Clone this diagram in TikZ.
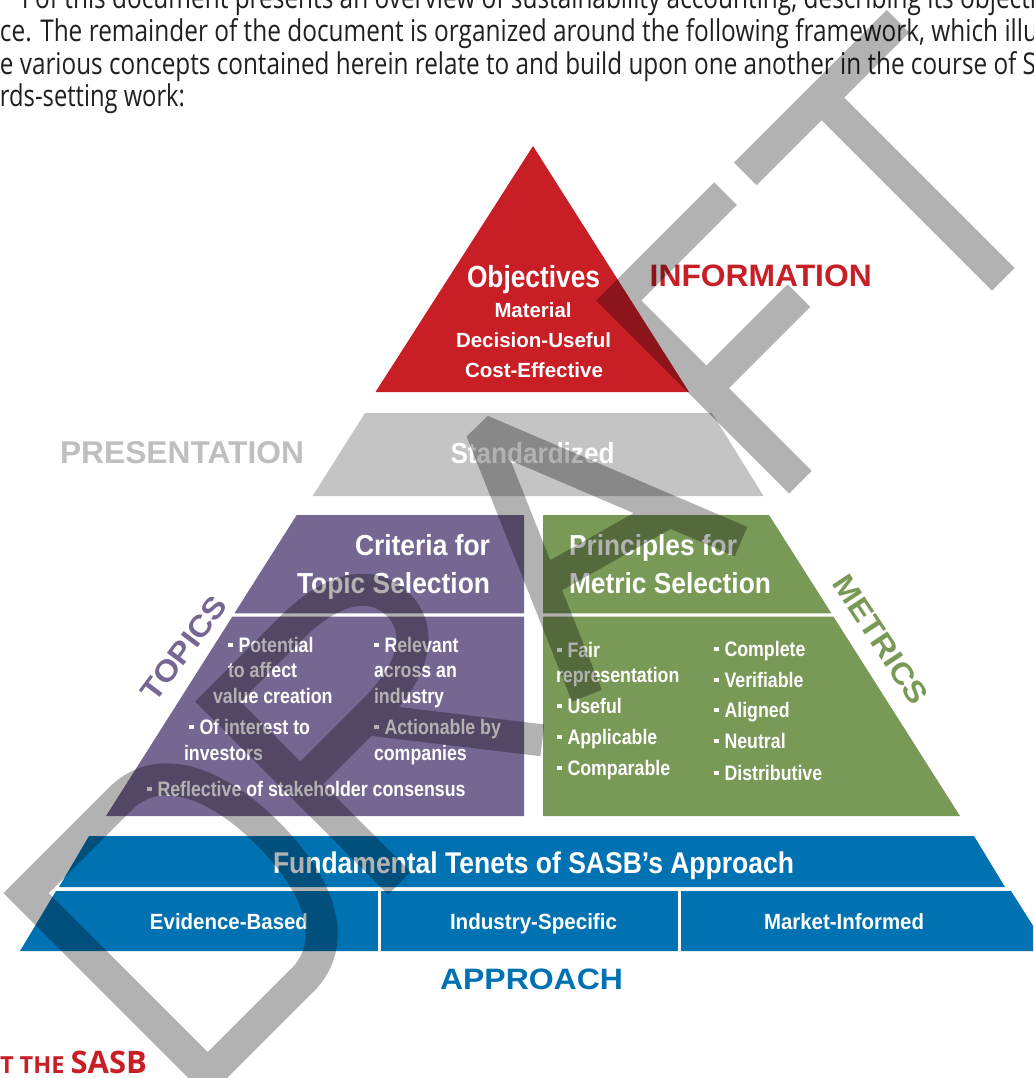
\documentclass[tikz,border=0pt]{standalone}
\usepackage{fontspec}
\usepackage{graphicx}
\setmainfont{Liberation Sans}
\newfontfamily\narrowf{Liberation Sans}[FakeStretch=0.846]
\newfontfamily\bodyf{Open Sans}
% scale a box horizontally to a given width, keeping its height
\newcommand\fitw[2]{\resizebox{#1}{\height}{#2}}
\newcommand\fsz[1]{\fontsize{#1}{#1}\selectfont}
\newcommand\bul{\rule[5pt]{4.5pt}{4.5pt}\hspace{6pt}}
\definecolor{sasbred}{RGB}{200,31,38}
\definecolor{sasbgray}{RGB}{196,196,196}
\definecolor{presgray}{RGB}{191,191,191}
\definecolor{sasbpurple}{RGB}{118,102,146}
\definecolor{sasbgreen}{RGB}{121,153,86}
\definecolor{sasbblue}{RGB}{0,114,178}
\definecolor{bodyc}{RGB}{35,31,32}
\begin{document}
\begin{tikzpicture}[x=1pt,y=-1pt,
  txt/.style={inner sep=0pt,outer sep=0pt},
  body/.style={txt,anchor=base west,text=bodyc},
  wt/.style={txt,anchor=base,text=white},
  bl/.style={txt,anchor=base west,text=white,font=\narrowf\bfseries\fsz{21}},
  wm/.style={line width=32pt,draw=black,draw opacity=0.3,line join=miter,miter limit=2,line cap=butt}]
\useasboundingbox (0,0) rectangle (1033,1078);
\clip (0,0) rectangle (1033,1078);

% running text above the figure
\node[body] (l1) at (22,9) {\fitw{1014pt}{\bodyf\fsz{30}I of this document presents an overview of sustainability accounting, describing its objecti}};
\node[body] (l2) at (0,42) {\fitw{1038pt}{\bodyf\fsz{30}ce. The remainder of the document is organized around the following framework, which illu}};
\node[body] (l3) at (0,75) {\fitw{1036pt}{\bodyf\fsz{30}e various concepts contained herein relate to and build upon one another in the course of S}};
\node[body] (l4) at (0,107) {\fitw{185pt}{\bodyf\fsz{30}rds-setting work:}};

% objectives
\fill[sasbred] (533,146) -- (689,392) -- (375.5,392) -- cycle;
\node[wt] (obj) at (533.5,287) {\fitw{133pt}{\bfseries\fsz{30.5}Objectives}};
\node[wt] (mat) at (533,317) {\fitw{77pt}{\bfseries\fsz{20.5}Material}};
\node[wt] (dec) at (533.5,347) {\fitw{155pt}{\bfseries\fsz{20.5}Decision-Useful}};
\node[wt] (cost) at (534,377) {\fitw{138pt}{\bfseries\fsz{20.5}Cost-Effective}};
\node[txt,anchor=base west,text=sasbred] (info) at (649.7,286) {\fitw{222pt}{\bfseries\fsz{31}INFORMATION}};

% presentation
\fill[sasbgray] (365,413) -- (712,413) -- (763.5,496) -- (312.6,496) -- cycle;
\node[txt,anchor=base west,text=presgray] (pres) at (60,463) {\fitw{244pt}{\bfseries\fsz{31.5}PRESENTATION}};
\node[wt] (std) at (532.5,463) {\fitw{164pt}{\bfseries\fsz{29}Standardized}};

% topics
\fill[sasbpurple] (296.7,515) -- (524,515) -- (524,613.3) -- (234.4,613.3) -- cycle;
\fill[sasbpurple] (232.3,616.7) -- (524,616.7) -- (524,816) -- (106,816) -- cycle;
\node[txt,anchor=base east,text=white] (crit1) at (490,555) {\fitw{135pt}{\bfseries\fsz{29}Criteria for}};
\node[txt,anchor=base east,text=white] (crit2) at (490,593) {\fitw{193pt}{\bfseries\fsz{29}Topic Selection}};
\node[bl] (t1) at (228,652) {\bul Potential};
\node[bl] (t2) at (228,677) {to affect};
\node[bl] (t3) at (213,703) {value creation};
\node[bl] (t4) at (189,734) {\bul Of interest to};
\node[bl] (t5) at (184,760) {investors};
\node[bl] (t6) at (374,652) {\bul Relevant};
\node[bl] (t7) at (374,677) {across an};
\node[bl] (t8) at (374,703) {industry};
\node[bl] (t9) at (374,734) {\bul Actionable by};
\node[bl] (t10) at (374,760) {companies};
\node[bl] (t11) at (147,796) {\bul Reflective of stakeholder consensus};
\node[txt,rotate=53,text=sasbpurple] (topics) at (184.2,648.3) {\fitw{122pt}{\bfseries\fsz{30}TOPICS}};

% metrics
\fill[sasbgreen] (543,515) -- (769,515) -- (831.4,613.3) -- (543,613.3) -- cycle;
\fill[sasbgreen] (543,616.7) -- (833.5,616.7) -- (960,816) -- (543,816) -- cycle;
\node[txt,anchor=base west,text=white] (prin1) at (569,555) {\fitw{168pt}{\bfseries\fsz{29}Principles for}};
\node[txt,anchor=base west,text=white] (prin2) at (569,593) {\fitw{202pt}{\bfseries\fsz{29}Metric Selection}};
\node[bl] (m1) at (557,657) {\bul Fair};
\node[bl] (m2) at (556,682) {representation};
\node[bl] (m3) at (557,713) {\bul Useful};
\node[bl] (m4) at (557,744) {\bul Applicable};
\node[bl] (m5) at (557,775) {\bul Comparable};
\node[bl] (m6) at (714,656) {\bul Complete};
\node[bl] (m7) at (714,687) {\bul Verifiable};
\node[bl] (m8) at (714,717) {\bul Aligned};
\node[bl] (m9) at (714,748) {\bul Neutral};
\node[bl] (m10) at (714,780) {\bul Distributive};
\node[txt,rotate=-56.5,text=sasbgreen] (metrics) at (880.5,639.7) {\fitw{148pt}{\bfseries\fsz{30}METRICS}};

% approach
\fill[sasbblue] (89,836) -- (974,836) -- (1005,887) -- (59,887) -- cycle;
\fill[sasbblue] (56,891) -- (1011,891) -- (1049,951) -- (20,951) -- cycle;
\fill[white] (377.5,891) rectangle (380.5,951);
\fill[white] (677.5,891) rectangle (680.5,951);
\node[wt] (fund) at (533.5,873) {\fitw{521pt}{\bfseries\fsz{30}Fundamental Tenets of SASB’s Approach}};
\node[wt] (ev) at (229,929) {\fitw{158pt}{\bfseries\fsz{22}Evidence-Based}};
\node[wt] (ind) at (533.5,929) {\fitw{167pt}{\bfseries\fsz{22}Industry-Specific}};
\node[wt] (mkt) at (844,929) {\fitw{160pt}{\bfseries\fsz{22}Market-Informed}};
\node[txt,anchor=base west,text=sasbblue] (appr) at (440,989) {\fitw{183pt}{\bfseries\fsz{29.5}APPROACH}};

% section heading below
\node[txt,anchor=base west,text=sasbred] (head) at (0,1073) {\bodyf\bfseries\fsz{23.5}T THE \fsz{31}SASB};

% watermark
\begin{scope}[shift={(641.3,641.3)}]
\begin{scope}[x={(0.7071pt,0.7071pt)},y={(-0.7071pt,0.7071pt)}]
\draw[wm] (-613,0) -- (-613,257) -- (-480,257) .. controls (-425,257) and (-400,200) .. (-400,128) .. controls (-400,56) and (-425,0) .. (-480,0) -- cycle;
\draw[wm] (-342,0) -- (-342,257) -- (-240,257) .. controls (-170,257) and (-146,228) .. (-146,198) .. controls (-146,168) and (-170,140) .. (-240,140) -- (-342,140) (-250,140) -- (-140,0);
\draw[wm] (-77,0) -- (36,262) -- (141,0) (-28,111) -- (112,72);
\draw[wm] (376,257) -- (225,257) -- (225,0) (225,133) -- (356,133);
\draw[wm] (404,257) -- (620,257) (512,257) -- (512,0);
\end{scope}
\end{scope}
\end{tikzpicture}
\end{document}
